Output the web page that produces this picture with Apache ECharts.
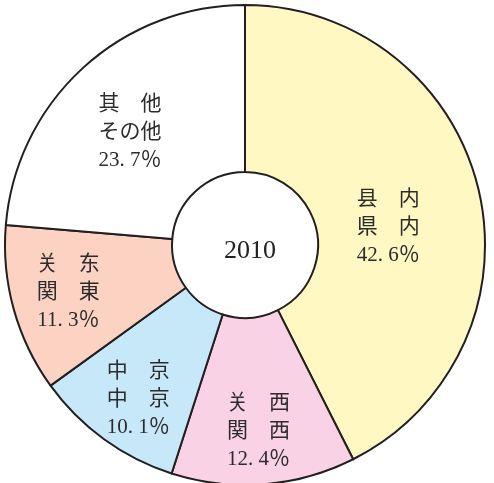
<!DOCTYPE html>
<html>
<head>
<meta charset="utf-8">
<script src="https://cdn.jsdelivr.net/npm/echarts@6/dist/echarts.min.js"></script>
<style>
  html, body { margin: 0; padding: 0; background: #fff; }
  #main { width: 494px; height: 483px; }
</style>
</head>
<body>
<div id="main"></div>
<script>
// 2010 出荷先
var year = '2010'
var cnNames = ['县　内', '关　西', '中　京', '关　东', '其　他']
var jpNames = ['県　内', '関　西', '中　京', '関　東', 'その他']
var values = [42.6, 12.4, 10.1, 11.3, 23.7]

var colors = ['#fff8c2', '#f9d3e5', '#c7e8f8', '#fcd3c3', '#ffffff']
// label nudges from the slice middle
var nudge = [[-12, 19], [1, 27], [-13, 25], [-23, 5], [-7, 5]]

var pieData = values.map(function (v, i) {
  return {
    value: v,
    name: cnNames[i],
    itemStyle: { color: colors[i] }
  }
})

var myChart = echarts.init(document.getElementById('main'))
myChart.setOption({
  animation: false,
  title: {
    text: year,
    left: 245,
    top: 246,
    textAlign: 'center',
    textVerticalAlign: 'middle',
    textStyle: {
      fontFamily: '"Liberation Serif", serif',
      fontSize: 26,
      fontWeight: 'normal',
      color: '#222'
    }
  },
  series: [
    {
      type: 'pie',
      center: [245, 245],
      radius: [73, 240],
      startAngle: 90,
      clockwise: true,
      silent: true,
      itemStyle: {
        borderColor: '#231f20',
        borderWidth: 2
      },
      label: {
        show: true,
        position: 'inside',
        align: 'center',
        formatter: function (p) {
          var i = p.dataIndex
          return cnNames[i] + '\n' + jpNames[i] + '\n' + values[i].toFixed(1).replace('.', '. ') + '％'
        },
        fontFamily: '"Liberation Serif", "Noto Sans CJK JP", serif',
        fontSize: 21,
        lineHeight: 28,
        color: '#2b2b2b'
      },
      labelLine: { show: false },
      labelLayout: function (params) {
        var n = nudge[params.dataIndex]
        return { dx: n[0], dy: n[1] }
      },
      data: pieData
    }
  ]
})
</script>
</body>
</html>
